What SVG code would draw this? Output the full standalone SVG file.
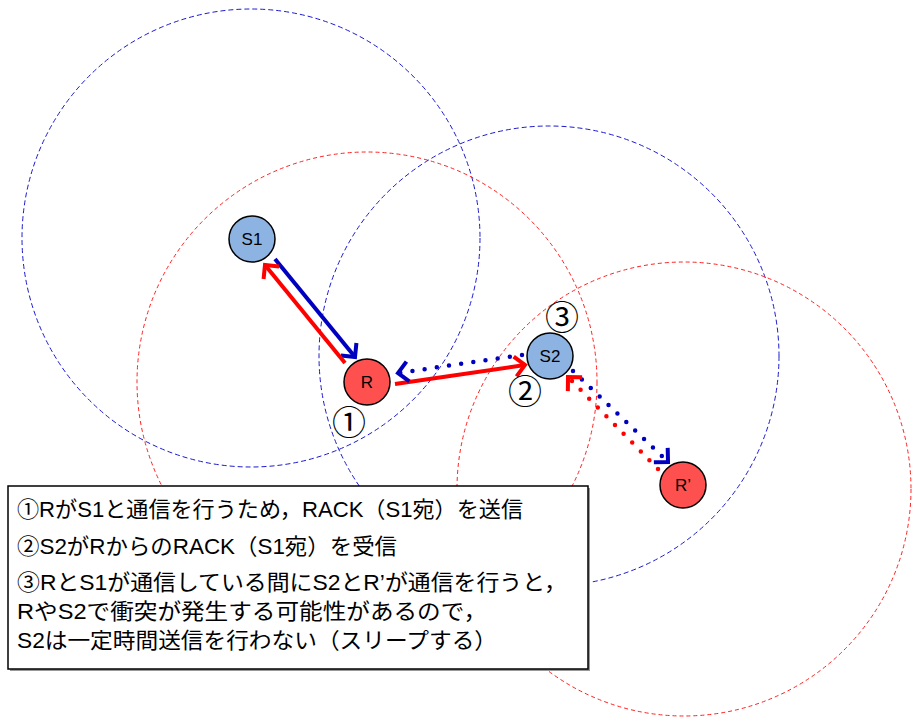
<svg xmlns="http://www.w3.org/2000/svg" width="912" height="719" viewBox="0 0 912 719">
<style>
.rng-b{fill:none;stroke:#1a1ad0;stroke-width:1;stroke-dasharray:5 3}
.rng-r{fill:none;stroke:#ff2020;stroke-width:1;stroke-dasharray:4 3}
.nb{fill:#8db3e2;stroke:#000;stroke-width:1.5}
.nr{fill:#ff5050;stroke:#000;stroke-width:1.5}
.lbl{font-family:"Liberation Sans","Noto Sans CJK JP",sans-serif;font-size:17px;fill:#000;text-anchor:middle}
.num{font-family:"Noto Sans CJK JP","Liberation Sans",sans-serif;font-size:34px;fill:#000;text-anchor:middle}
.txt{font-family:"Liberation Sans","Noto Sans CJK JP",sans-serif;font-size:22px;fill:#000}
.sb{fill:none;stroke:#0000c0;stroke-width:4}
.sr{fill:none;stroke:#ff0000;stroke-width:4}
.db{fill:none;stroke:#0000c0;stroke-width:4.5;stroke-linecap:round;stroke-dasharray:0 12.3}
.dr{fill:none;stroke:#ff0000;stroke-width:4.5;stroke-linecap:round;stroke-dasharray:0 12.3}
</style>
<defs>
<marker id="ab" markerUnits="userSpaceOnUse" markerWidth="30" markerHeight="30" refX="0" refY="0" viewBox="-15 -15 30 30" orient="auto" overflow="visible">
<path d="M-10,-10 L0,0 L-10,10" fill="none" stroke="#0000c0" stroke-width="4"/>
</marker>
<marker id="ar" markerUnits="userSpaceOnUse" markerWidth="30" markerHeight="30" refX="0" refY="0" viewBox="-15 -15 30 30" orient="auto" overflow="visible">
<path d="M-10,-10 L0,0 L-10,10" fill="none" stroke="#ff0000" stroke-width="4"/>
</marker>
</defs>
<rect width="912" height="719" fill="#fff"/>
<g id="ranges">
<circle class="rng-b" cx="251" cy="238" r="229"/>
<circle class="rng-r" cx="367" cy="382" r="230"/>
<circle class="rng-b" cx="549" cy="356" r="230"/>
<circle class="rng-r" cx="684" cy="489" r="227"/>
</g>
<g id="legend">
<rect x="10" y="488" width="580" height="183" fill="#999"/>
<rect x="8" y="486" width="580" height="183" fill="#fff" stroke="#000" stroke-width="1.5"/>
<text class="txt" x="17" y="517" textLength="506" lengthAdjust="spacingAndGlyphs">①RがS1と通信を行うため，RACK（S1宛）を送信</text>
<text class="txt" x="17" y="554" textLength="380" lengthAdjust="spacingAndGlyphs">②S2がRからのRACK（S1宛）を受信</text>
<text class="txt" x="17" y="590" textLength="550" lengthAdjust="spacingAndGlyphs">③RとS1が通信している間にS2とR’が通信を行うと，</text>
<text class="txt" x="17" y="619" textLength="470" lengthAdjust="spacingAndGlyphs">RやS2で衝突が発生する可能性があるので，</text>
<text class="txt" x="17" y="648" textLength="480" lengthAdjust="spacingAndGlyphs">S2は一定時間送信を行わない（スリープする）</text>
</g>
<g id="connectors">
<path class="sb" d="M275,259 L355,357" marker-end="url(#ab)"/>
<path class="sr" d="M345,363 L265,265" marker-end="url(#ar)"/>
<path class="sr" d="M395,384 L525,365" marker-end="url(#ar)"/>
<path class="db" d="M522,355 L398,373" marker-end="url(#ab)"/>
<path class="db" d="M573,371 L668,462" marker-end="url(#ab)"/>
<path class="dr" d="M658,469 L568,377" marker-end="url(#ar)"/>
</g>
<g id="node-S1">
<circle class="nb" cx="252" cy="239" r="23"/>
<text class="lbl" x="252" y="245">S1</text>
</g>
<g id="node-R">
<circle class="nr" cx="367" cy="382" r="23"/>
<text class="lbl" x="367" y="388">R</text>
</g>
<g id="node-S2">
<circle class="nb" cx="550" cy="356" r="23"/>
<text class="lbl" x="550" y="362">S2</text>
</g>
<g id="node-R2">
<circle class="nr" cx="683" cy="485" r="23"/>
<text class="lbl" x="683" y="491">R’</text>
</g>
<g id="labels">
<text class="num" x="349" y="435">①</text>
<text class="num" x="525" y="404">②</text>
<text class="num" x="562" y="330">③</text>
</g>
</svg>
